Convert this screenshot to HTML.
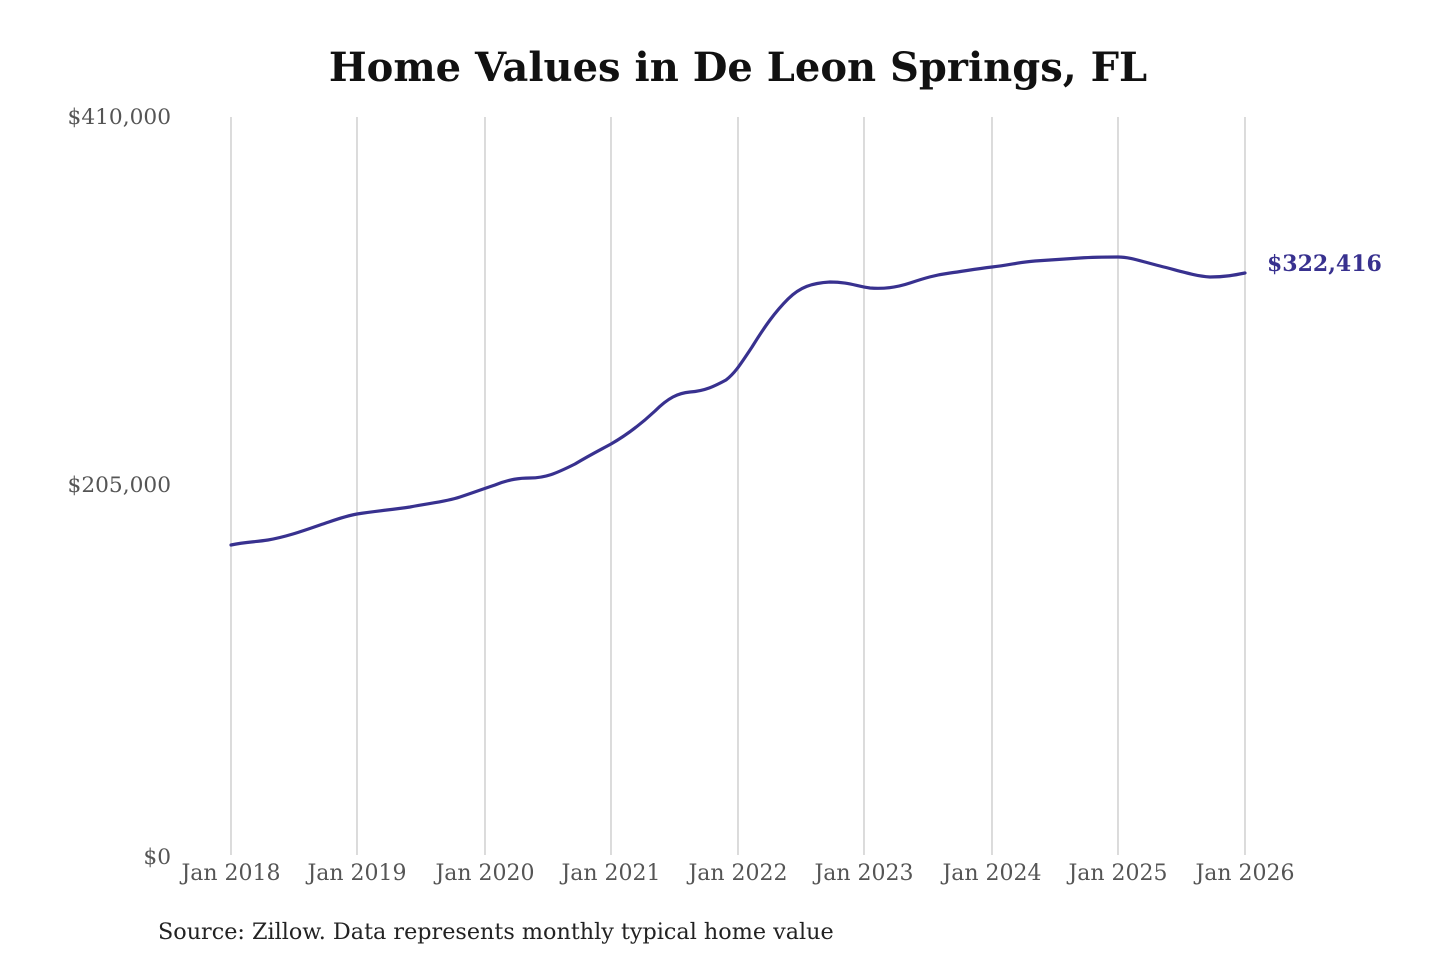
<!DOCTYPE html>
<html><head><meta charset="utf-8"><style>
html,body{margin:0;padding:0;background:#fff;}
svg{display:block;}
</style></head><body>
<svg width="1440" height="960" viewBox="0 0 1440 960" xmlns="http://www.w3.org/2000/svg" font-family="DejaVu Serif, Liberation Serif, serif">
<rect width="1440" height="960" fill="#fff"/>
<text x="738" y="81" text-anchor="middle" font-size="40" font-weight="bold" fill="#111">Home Values in De Leon Springs, FL</text>
<g stroke="#c8c8c8" stroke-width="1.3">
<line x1="231" y1="117" x2="231" y2="855"/>
<line x1="357" y1="117" x2="357" y2="855"/>
<line x1="485" y1="117" x2="485" y2="855"/>
<line x1="611" y1="117" x2="611" y2="855"/>
<line x1="738" y1="117" x2="738" y2="855"/>
<line x1="864" y1="117" x2="864" y2="855"/>
<line x1="992" y1="117" x2="992" y2="855"/>
<line x1="1118" y1="117" x2="1118" y2="855"/>
<line x1="1245" y1="117" x2="1245" y2="855"/>
</g>
<g font-size="21.7" fill="#555" text-anchor="end">
<text x="171" y="124">$410,000</text>
<text x="171" y="492">$205,000</text>
<text x="171" y="864">$0</text>
</g>
<g font-size="22" fill="#555" text-anchor="middle">
<text x="231" y="880">Jan 2018</text>
<text x="357" y="880">Jan 2019</text>
<text x="485" y="880">Jan 2020</text>
<text x="611" y="880">Jan 2021</text>
<text x="738" y="880">Jan 2022</text>
<text x="864" y="880">Jan 2023</text>
<text x="992" y="880">Jan 2024</text>
<text x="1118" y="880">Jan 2025</text>
<text x="1245" y="880">Jan 2026</text>
</g>
<path fill="none" stroke="#38318f" stroke-width="3.2" stroke-linejoin="round" stroke-linecap="round"
d="M231,545 C245,542 255,542 268,540 C285,537 300,532 320,525 C335,520 345,516 357,514 C375,511 390,510 410,507 C430,503 445,502 460,497 C475,492 480,490 495,485 C510,479 520,478 530,478 C545,478 555,474 575,464 C590,455 600,450 611,444 C625,436 640,425 655,411 C668,398 678,393 690,392 C705,391 715,386 726,380 C735,373 740,365 752,347 C765,326 775,312 788,299 C800,287 812,283 830,282 C848,282 856,286 870,288 C882,289 895,288 910,283 C925,278 935,275 950,273 C965,271 975,269 992,267 C1010,265 1020,262 1035,261 C1050,260 1065,259 1080,258 C1095,257 1105,257 1118,257 C1130,257 1140,261 1160,266 C1180,271 1195,276 1210,277 C1225,277 1235,275 1245,273"/>
<text x="1267" y="271" font-size="22" font-weight="bold" fill="#38318f">$322,416</text>
<text x="158" y="939" font-size="22.3" fill="#222">Source: Zillow. Data represents monthly typical home value</text>
</svg>
</body></html>
